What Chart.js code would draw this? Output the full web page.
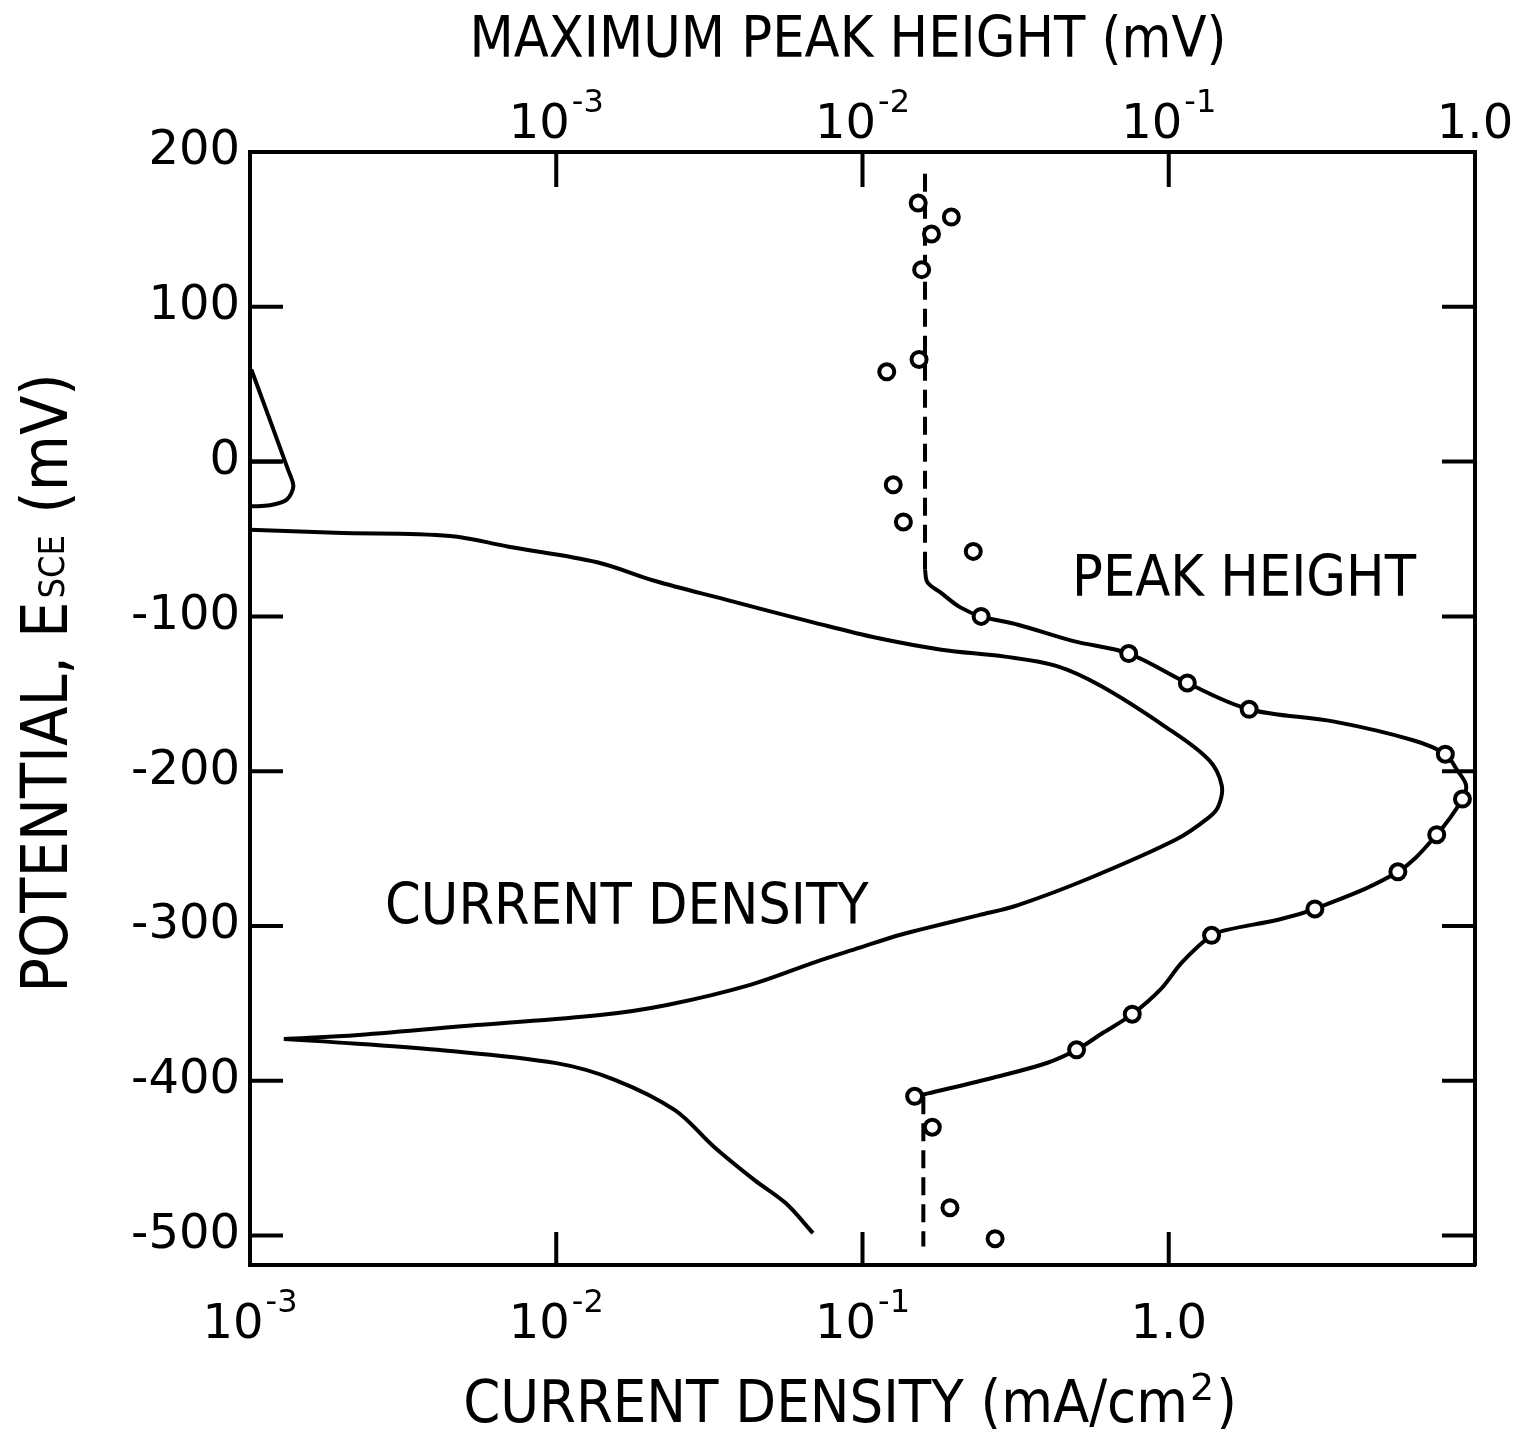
<!DOCTYPE html>
<html>
<head>
<meta charset="utf-8">
<title>Current density and peak height vs potential</title>
<script src="https://cdn.jsdelivr.net/npm/chart.js@4.4.1/dist/chart.umd.min.js"></script>
<style>
  html, body { margin: 0; padding: 0; background: #fff; }
  canvas { display: block; }
</style>
</head>
<body>
<canvas id="chart" width="1524" height="1429"></canvas>
<script>
// potential axis, mV vs SCE
const potentialTicks = [-500, -400, -300, -200, -100, 0, 100, 200];

// bottom axis: current density (mA/cm2)
const currentTicks = [1e-3, 1e-2, 1e-1, 1, 10];
const currentTickLabels = ['10^-3', '10^-2', '10^-1', '1.0', ''];

// top axis: maximum peak height (mV)
const peakTicks = [1e-4, 1e-3, 1e-2, 1e-1, 1];
const peakTickLabels = ['', '10^-3', '10^-2', '10^-1', '1.0'];

// small loop around 0 mV
const loopCurrent   = [0.00101, 0.00133, 0.001385, 0.001318, 0.001162, 0.00101];
const loopPotential = [59.5, -5, -16, -24.6, -28.2, -28.9];
const chordCurrent   = [0.00101, 0.00127];
const chordPotential = [0, 0];

// polarization curve: from -44 mV round the nose down to the tip
const upperCurrent = [0.001, 0.0019, 0.0045, 0.0070, 0.0136, 0.0209, 0.0355, 0.0695, 0.112, 0.181,
  0.292, 0.429, 0.601, 0.970, 1.35, 1.49, 1.45, 1.35, 1.06, 0.553, 0.322, 0.240, 0.153, 0.132,
  0.098, 0.0708, 0.0430, 0.0230, 0.0139, 0.0055, 0.00226, 0.00129];
const upperPotential = [-44, -46, -48, -55, -65, -77, -89, -104, -114, -121.5,
  -126, -132, -145, -171, -192.6, -209.4, -223, -230, -244, -269, -286.5, -293, -302.5, -305.8,
  -314, -323, -338, -351, -357.5, -364, -370.4, -373];

// branch below the tip
const lowerCurrent   = [0.00129, 0.00178, 0.0041, 0.0100, 0.0156, 0.0244, 0.0327, 0.0443, 0.0561, 0.0689];
const lowerPotential = [-373, -374.7, -380, -388.6, -399.5, -419, -442.6, -464, -479, -498.4];

// peak height: smooth curve through the measured points
const peakCurveHeight = [0.016, 0.0163, 0.0181, 0.0208, 0.0244, 0.0322, 0.0489, 0.074, 0.115, 0.183,
  0.347, 0.628, 0.80, 0.872, 0.935, 0.91, 0.75, 0.56, 0.30, 0.231, 0.155, 0.138, 0.111, 0.094,
  0.076, 0.061, 0.050, 0.040, 0.0267, 0.0165, 0.0148];
const peakCurvePotential = [-70, -78, -85, -94, -100, -105.4, -116, -124, -143, -160,
  -168, -180, -189, -199, -209, -218, -241, -265, -289, -295.6, -302.5, -306, -323, -341,
  -357, -369, -380, -388.5, -398, -408, -410];

// background level (dashed)
const upperBaseHeight = [0.016, 0.016];
const upperBasePotential = [186, -70];
const lowerBaseHeight = [0.0158, 0.0158];
const lowerBasePotential = [-410, -507];

// measured peak heights
const peakHeight = [0.0152, 0.0195, 0.0168, 0.0156, 0.0153, 0.0120, 0.0126, 0.0136, 0.0230,
  0.0244, 0.074, 0.115, 0.183, 0.80, 0.91, 0.75, 0.56, 0.30, 0.138, 0.076, 0.050, 0.0148,
  0.0169, 0.0193, 0.0271];
const peakPotential = [167, 158, 147, 124, 66, 58, -15, -39, -58,
  -100, -124, -143, -160, -189, -218, -241, -265, -289, -306, -357, -380, -410,
  -430, -482, -502];

const BLACK = '#000';
const TICK_FONT = '48px "DejaVu Sans"';
const SUP_FONT = '32px "DejaVu Sans"';
const TITLE_FONT = '57px "DejaVu Sans Condensed", "DejaVu Sans"';
const TICK_LEN = 33;

const pts = (xs, ys) => xs.map((x, i) => ({ x: x, y: ys[i] }));

function lineSet(data, extra) {
  return Object.assign({
    data: data, showLine: true, borderColor: BLACK, borderWidth: 4,
    pointRadius: 0, tension: 0.35, fill: false, xAxisID: 'x', yAxisID: 'y', order: 2
  }, extra || {});
}

// "10^-3" -> 10 with raised exponent
function drawPowerLabel(ctx, text, cx, baseline) {
  if (!text) return;
  const parts = text.split('^');
  ctx.font = TICK_FONT;
  const wb = ctx.measureText(parts[0]).width;
  let we = 0;
  if (parts[1]) { ctx.font = SUP_FONT; we = ctx.measureText(parts[1]).width + 2; }
  const x0 = cx - (wb + we) / 2;
  ctx.textAlign = 'left';
  ctx.textBaseline = 'alphabetic';
  ctx.font = TICK_FONT;
  ctx.fillText(parts[0], x0, baseline);
  if (parts[1]) {
    ctx.font = SUP_FONT;
    ctx.fillText(parts[1], x0 + wb + 2, baseline - 26);
  }
}

const axisDecor = {
  id: 'axisDecor',
  afterDraw(chart) {
    const { ctx, chartArea: a, scales } = chart;
    ctx.save();
    ctx.strokeStyle = BLACK;
    ctx.fillStyle = BLACK;
    ctx.lineWidth = 4;

    // tick marks point into the plot
    ctx.beginPath();
    scales.y.ticks.forEach(t => {
      const p = scales.y.getPixelForValue(t.value);
      ctx.moveTo(a.left, p); ctx.lineTo(a.left + TICK_LEN, p);
      ctx.moveTo(a.right, p); ctx.lineTo(a.right - TICK_LEN, p);
    });
    scales.x.ticks.forEach(t => {
      const p = scales.x.getPixelForValue(t.value);
      ctx.moveTo(p, a.bottom); ctx.lineTo(p, a.bottom - TICK_LEN);
    });
    scales.x2.ticks.forEach(t => {
      const p = scales.x2.getPixelForValue(t.value);
      ctx.moveTo(p, a.top); ctx.lineTo(p, a.top + TICK_LEN + 2);
    });
    ctx.stroke();

    // decade labels
    scales.x.ticks.forEach((t, i) => {
      drawPowerLabel(ctx, currentTickLabels[i], scales.x.getPixelForValue(t.value), a.bottom + 73);
    });
    scales.x2.ticks.forEach((t, i) => {
      drawPowerLabel(ctx, peakTickLabels[i], scales.x2.getPixelForValue(t.value), a.top - 14);
    });

    // axis titles
    ctx.font = TITLE_FONT;
    ctx.textBaseline = 'alphabetic';
    ctx.textAlign = 'center';
    ctx.fillText('MAXIMUM PEAK HEIGHT (mV)', 848, 57);

    const bFont = '59px "DejaVu Sans Condensed", "DejaVu Sans"';
    const b1 = 'CURRENT DENSITY (mA/cm', b2 = '2', b3 = ')';
    ctx.font = bFont;
    const w1 = ctx.measureText(b1).width, w3 = ctx.measureText(b3).width;
    ctx.font = '38px "DejaVu Sans"';
    const w2 = ctx.measureText(b2).width + 4;
    let bx = 850 - (w1 + w2 + w3) / 2;
    ctx.textAlign = 'left';
    ctx.font = bFont;
    ctx.fillText(b1, bx, 1422);
    ctx.font = '38px "DejaVu Sans"';
    ctx.fillText(b2, bx + w1 + 2, 1400);
    ctx.font = bFont;
    ctx.fillText(b3, bx + w1 + w2, 1422);

    // rotated potential title with subscript
    const yFont = '64px "DejaVu Sans Condensed", "DejaVu Sans"';
    const sFont = '36px "DejaVu Sans Condensed", "DejaVu Sans"';
    const s1 = 'POTENTIAL, E', s2 = 'SCE', s3 = ' (mV)';
    ctx.font = yFont;
    const l1 = ctx.measureText(s1).width, l3 = ctx.measureText(s3).width;
    ctx.font = sFont;
    const l2 = ctx.measureText(s2).width + 6;
    ctx.translate(67, 683);
    ctx.rotate(-Math.PI / 2);
    let tx = -(l1 + l2 + l3) / 2;
    ctx.font = yFont;
    ctx.fillText(s1, tx, 0);
    ctx.font = sFont;
    ctx.fillText(s2, tx + l1 + 3, -3);
    ctx.font = yFont;
    ctx.fillText(s3, tx + l1 + l2, 0);
    ctx.setTransform(1, 0, 0, 1, 0, 0);

    // curve names
    ctx.font = TITLE_FONT;
    ctx.textAlign = 'left';
    ctx.fillText('PEAK HEIGHT', scales.x.getPixelForValue(0.483), scales.y.getPixelForValue(-87));
    ctx.fillText('CURRENT DENSITY', scales.x.getPixelForValue(0.00276), scales.y.getPixelForValue(-298.6));
    ctx.restore();
  }
};

const border = { display: true, color: BLACK, width: 4 };
const noGrid = { display: false, drawTicks: false };

new Chart(document.getElementById('chart'), {
  type: 'scatter',
  data: {
    datasets: [
      lineSet(pts(loopCurrent, loopPotential), { tension: 0.3 }),
      lineSet(pts(chordCurrent, chordPotential), { tension: 0 }),
      lineSet(pts(upperCurrent, upperPotential)),
      lineSet(pts(lowerCurrent, lowerPotential)),
      lineSet(pts(peakCurveHeight, peakCurvePotential), { xAxisID: 'x2' }),
      lineSet(pts(upperBaseHeight, upperBasePotential), { xAxisID: 'x2', tension: 0, borderDash: [18, 9] }),
      lineSet(pts(lowerBaseHeight, lowerBasePotential), { xAxisID: 'x2', tension: 0, borderDash: [18, 9] }),
      {
        data: pts(peakHeight, peakPotential), xAxisID: 'x2', yAxisID: 'y', showLine: false,
        pointStyle: 'circle', pointRadius: 7.5, pointBorderWidth: 4,
        pointBackgroundColor: '#fff', pointBorderColor: BLACK, order: 1
      }
    ]
  },
  options: {
    responsive: false,
    animation: false,
    events: [],
    layout: { padding: 0 },
    plugins: { legend: { display: false }, tooltip: { enabled: false } },
    scales: {
      x: {
        type: 'logarithmic', position: 'bottom', min: 1e-3, max: 10,
        grid: noGrid, border: border, ticks: { display: false },
        afterBuildTicks: s => { s.ticks = currentTicks.map(v => ({ value: v })); },
        afterFit: s => { s.height = 164; }
      },
      x2: {
        type: 'logarithmic', position: 'top', min: 1e-4, max: 1,
        grid: noGrid, border: border, ticks: { display: false },
        afterBuildTicks: s => { s.ticks = peakTicks.map(v => ({ value: v })); },
        afterFit: s => { s.height = 152; }
      },
      y: {
        type: 'linear', position: 'left', min: -519, max: 200,
        grid: noGrid, border: border,
        ticks: {
          display: true, autoSkip: false, padding: 10, color: BLACK,
          font: { family: 'DejaVu Sans', size: 48 },
          callback: v => String(v)
        },
        afterBuildTicks: s => { s.ticks = potentialTicks.map(v => ({ value: v })); },
        afterFit: s => { s.width = 250; }
      },
      y2: {
        type: 'linear', position: 'right', min: -519, max: 200,
        grid: noGrid, border: border, ticks: { display: false },
        afterBuildTicks: s => { s.ticks = potentialTicks.map(v => ({ value: v })); },
        afterFit: s => { s.width = 49; }
      }
    }
  },
  plugins: [axisDecor]
});
</script>
</body>
</html>
